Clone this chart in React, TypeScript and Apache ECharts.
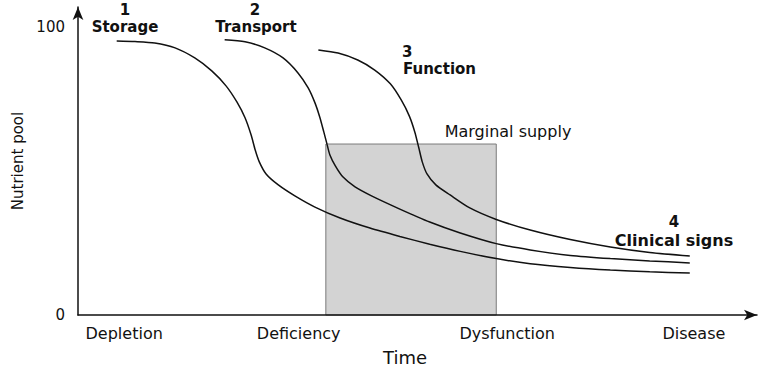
import React, { useEffect, useRef } from 'react';
import * as echarts from 'echarts';

// Stage labels along the time axis
const stageLabels = ['Depletion', 'Deficiency', 'Dysfunction', 'Disease'];
const stagePositions = [6.8, 32.5, 63.2, 90.7];
const yTickValues = [0, 100];

// Curve 1 – Storage
const storageX = [5.7, 8.4, 11.3, 14.3, 17.2, 19.7, 21.8, 23.4, 24.6, 25.5, 26.1, 26.7, 27.7, 29.5, 32.0, 34.9, 38.6, 43.0, 47.4, 51.8, 56.3, 61.6, 66.6, 72.5, 78.4, 84.2, 90.1];
const storageY = [95.2, 95.0, 94.5, 92.8, 89.3, 84.8, 79.6, 74.0, 68.5, 62.5, 57.3, 53.2, 49.0, 45.2, 41.3, 37.5, 33.7, 30.2, 27.3, 24.6, 22.1, 19.6, 17.8, 16.5, 15.6, 15.0, 14.6];

// Curve 2 – Transport
const transportX = [21.6, 24.6, 27.5, 30.2, 32.4, 33.9, 34.9, 35.6, 36.2, 36.7, 37.1, 37.9, 39.0, 40.8, 43.3, 47.4, 51.8, 56.3, 61.6, 66.6, 72.5, 78.4, 84.2, 90.1];
const transportY = [95.6, 94.9, 92.8, 89.3, 84.1, 78.9, 73.7, 68.8, 63.6, 59.1, 55.6, 51.8, 48.0, 44.5, 41.3, 36.8, 32.3, 28.5, 24.8, 22.6, 20.7, 19.6, 18.8, 18.1];

// Curve 3 – Function
const functionX = [35.4, 38.3, 41.2, 43.7, 46.0, 47.6, 48.8, 49.6, 50.2, 50.7, 51.4, 52.7, 54.8, 57.7, 61.6, 66.6, 72.5, 78.4, 84.2, 90.1];
const functionY = [92.1, 91.0, 88.6, 85.1, 80.3, 74.7, 69.1, 63.6, 58.0, 53.2, 49.0, 45.2, 41.7, 37.2, 33.2, 29.5, 26.2, 23.6, 21.7, 20.5];

// Marginal supply zone
const marginalX = [36.5, 61.6];
const marginalY = [0, 59.4];

const FONT = 'DejaVu Sans';

const zip = (xs: number[], ys: number[]) => xs.map((x, i) => [x, ys[i]]);

export default function App() {
  const ref = useRef<HTMLDivElement>(null);

  useEffect(() => {
    if (!ref.current) return;
    const chart = echarts.init(ref.current, null, { renderer: 'svg' });

    const curve = (name: string, xs: number[], ys: number[]) => ({
      name,
      type: 'line',
      data: zip(xs, ys),
      symbol: 'none',
      smooth: 0.25,
      z: 3,
      lineStyle: { color: '#111', width: 1.5 },
    });

    const label = (text: string, x: number, y: number, size: number, bold: boolean, align = 'center') => ({
      type: 'text',
      x,
      y,
      style: {
        text,
        fontFamily: FONT,
        fontWeight: bold ? 'bold' : 'normal',
        fontSize: size,
        fill: '#111',
        align,
        verticalAlign: 'middle',
      },
    });

    chart.setOption({
      animation: false,
      backgroundColor: '#ffffff',
      grid: { left: 78, right: 12, top: 7, bottom: 55 },
      xAxis: {
        type: 'value',
        min: 0,
        max: 100,
        z: 5,
        splitLine: { show: false },
        axisTick: { show: false },
        axisLine: {
          show: true,
          lineStyle: { color: '#111', width: 1.5 },
          symbol: ['none', 'arrow'],
          symbolSize: [8, 13],
        },
        axisLabel: {
          customValues: stagePositions,
          formatter: (v: number) => {
            const i = stagePositions.findIndex((p) => Math.abs(p - v) < 1e-6);
            return i >= 0 ? stageLabels[i] : '';
          },
          color: '#111',
          fontFamily: FONT,
          fontSize: 16,
          margin: 10,
        },
      },
      yAxis: {
        type: 'value',
        min: 0,
        max: 107,
        z: 5,
        name: 'Nutrient pool',
        nameLocation: 'middle',
        nameRotate: 90,
        nameGap: 44,
        nameTextStyle: { color: '#111', fontFamily: FONT, fontSize: 15 },
        splitLine: { show: false },
        axisTick: { show: false },
        axisLine: {
          show: true,
          lineStyle: { color: '#111', width: 1.5 },
          symbol: ['none', 'arrow'],
          symbolSize: [8, 13],
        },
        axisLabel: {
          customValues: yTickValues,
          color: '#111',
          fontFamily: FONT,
          fontSize: 15,
          margin: 13,
        },
      },
      series: [
        {
          name: 'Marginal supply',
          type: 'line',
          data: [],
          z: 1,
          markArea: {
            silent: true,
            itemStyle: { color: '#d3d3d3', borderColor: '#7a7a7a', borderWidth: 1 },
            label: { show: false },
            data: [[{ coord: [marginalX[0], marginalY[1]] }, { coord: [marginalX[1], marginalY[0]] }]],
          },
        },
        curve('Storage', storageX, storageY),
        curve('Transport', transportX, transportY),
        curve('Function', functionX, functionY),
      ],
      graphic: [
        label('1', 125, 10, 15, true),
        label('Storage', 125, 27, 15, true),
        label('2', 255, 10, 15, true),
        label('Transport', 256, 27, 15, true),
        label('3', 402, 52, 15, true, 'left'),
        label('Function', 403, 69, 15, true, 'left'),
        label('Marginal supply', 508, 131, 16, false),
        label('4', 674, 222, 15, true),
        label('Clinical signs', 674, 240, 16, true),
        label('Time', 405, 357, 18, false),
      ],
    });

    return () => chart.dispose();
  }, []);

  return (
    <div
      ref={ref}
      style={{ position: 'fixed', left: 0, top: 0, width: 769, height: 370 }}
    />
  );
}
